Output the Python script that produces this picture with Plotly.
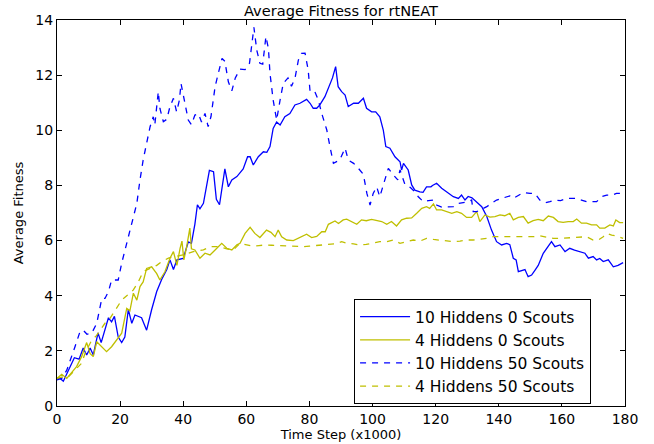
import plotly.graph_objects as go

# ---- data: average fitness over time (time step in thousands) ----
t_10h_0s = [0, 1, 2, 4, 5.5, 7, 8.3, 9.4, 10.5, 11.5, 13, 14, 16.3, 17.3, 18.2, 19.4, 20.5, 21.5, 22.6, 23.7,
            24.7, 26.8, 28.4, 30, 31.6, 33.2, 34.8, 35.8, 36.9, 38, 40, 41.6, 42.6, 43.7, 44.5, 45.3, 46.4,
            48.3, 49.6, 50.5, 51.5, 53.2, 54.3, 55.4, 57, 59, 60.4, 61.2, 62.2, 63.8, 65.4, 66.5, 67.5, 68.5,
            69.6, 70.7, 72.2, 73.8, 75.4, 77, 78, 79.1, 80.2, 81.2, 82.3, 83.3, 84.9, 86.5, 87.3, 88.3, 89.1,
            90.2, 91.3, 92.3, 94, 95.5, 97.1, 98.1, 99.7, 101, 102.3, 103.4, 104.2, 105.5, 107.1, 108.7,
            109.2, 109.8, 111.3, 112.4, 113.4, 115, 116, 117.1, 118.5, 119, 120.3, 121.9, 123.5, 125.6,
            127.2, 128.2, 129.3, 130.3, 131.5, 133, 134.6, 136.2, 137.7, 139.3, 140.9, 142.5, 143.5, 144.6,
            145.5, 146.2, 147.3, 148.3, 149.3, 150.4, 151.5, 152.5, 154.1, 155.7, 156.7, 157.8, 159.4, 161,
            162.5, 164, 165.7, 167.3, 168.4, 169.9, 171, 172, 173.1, 174.7, 176.3, 177.8, 179.4]
v_10h_0s = [1.0, 1.0, 0.9, 1.4, 1.75, 1.7, 2.1, 1.85, 2.1, 1.85, 2.65, 2.3, 3.2, 3.05, 3.25, 2.5, 2.3, 2.5, 3.5, 3.0,
            3.3, 3.2, 2.75, 3.5, 4.15, 4.6, 4.95, 5.3, 4.95, 5.3, 5.35, 5.95, 5.9, 6.6, 7.3, 7.15, 7.35,
            8.55, 8.5, 7.5, 7.3, 8.6, 7.95, 8.2, 8.32, 8.6, 9.04, 9.04, 8.74, 9.04, 9.22, 9.2, 9.41, 10.07,
            10.3, 10.19, 10.49, 10.61, 10.92, 10.98, 11.05, 11.12, 10.98, 10.8, 10.8, 10.92, 11.22, 11.64, 11.9, 12.31, 11.58,
            11.4, 11.28, 10.86, 10.98, 10.98, 11.16, 10.8, 10.67, 10.67, 10.49, 10.01, 9.41, 9.35, 9.04, 8.86,
            8.56, 8.8, 8.56, 8.02, 7.83, 7.77, 7.75, 7.95, 7.95, 8.0, 8.08, 7.9, 7.77, 7.59,
            7.53, 7.65, 7.47, 7.6, 7.55, 7.41, 7.23, 6.87, 6.38, 5.96, 5.84, 5.9, 5.85, 5.36,
            5.3, 4.87, 4.9, 4.95, 4.69, 4.75, 4.93, 5.1, 5.54, 5.78, 5.96, 5.78, 5.84, 5.6,
            5.72, 5.65, 5.6, 5.54, 5.36, 5.42, 5.3, 5.35, 5.24, 5.3, 5.05, 5.1, 5.2]

t_4h_0s = [0, 1.5, 3.1, 4.6, 6.2, 7.8, 8.9, 9.4, 10.5, 11.5, 12.6, 14.1, 15.7, 17.3, 18.9, 20.5, 22.1, 23.1, 24.2,
           25.3, 26.3, 27.3, 28.4, 30, 31.6, 32.6, 34.2, 35.8, 36.9, 38, 39, 39.6, 40.2, 41.1, 42.1, 42.6, 43.7,
           45.3, 46.9, 48.5, 50.1, 52.2, 53.8, 55.4, 57, 58, 59.6, 61.2, 62.7, 64.3, 66.4, 67.8, 69.1, 70.1,
           71.2, 72.8, 74.9, 77, 79.1, 80.7, 82.3, 83.9, 85, 86, 87, 88.1, 89.2, 90.7, 91.8, 93.2, 95, 96.5, 98,
           99.7, 101.3, 102.9, 104.5, 106, 107.6, 109.2, 110.8, 112.4, 114, 115.6, 117.1, 118.1, 119.3, 120.3,
           121.9, 123.5, 125.1, 126.7, 128.2, 129.8, 131.4, 133, 134, 135.6, 137.2, 138.8, 140.4, 141.9, 143.5,
           144.6, 146.2, 147.8, 149.3, 150.9, 152.5, 154.1, 155.7, 157.3, 158.8, 160.4, 162, 163.6, 164.7,
           166.2, 167.8, 169.4, 171, 172, 173.6, 175.2, 176.3, 177.1, 178.3, 179.4]
v_4h_0s = [1.0, 1.15, 1.0, 1.19, 1.43, 1.79, 2.15, 2.3, 1.9, 1.79, 2.33, 2.15, 1.97, 2.15, 2.39, 2.64, 3.54, 3.45, 4.09,
           3.84, 4.33, 4.5, 4.99, 5.05, 4.8, 4.57, 4.87, 5.36, 5.6, 5.1, 5.72, 5.98, 5.3, 5.78, 6.45, 5.7, 5.66,
           5.36, 5.54, 5.48, 5.66, 5.9, 5.72, 5.66, 5.85, 5.9, 6.26, 6.48, 6.26, 6.11, 6.38, 6.3, 6.14, 6.38,
           6.14, 6.02, 6.0, 6.11, 6.23, 6.11, 6.15, 6.32, 6.32, 6.59, 6.65, 6.71, 6.62, 6.75, 6.78, 6.7, 6.59, 6.75, 6.72,
           6.77, 6.72, 6.69, 6.59, 6.69, 6.53, 6.75, 6.81, 6.82, 6.99, 7.17, 7.23, 7.17, 7.33, 7.11,
           7.11, 7.05, 6.99, 7.05, 6.99, 6.84, 6.84, 7.05, 6.69, 6.93, 6.85, 6.87, 6.93, 6.9, 6.99,
           6.75, 6.84, 6.87, 6.63, 6.72, 6.77, 6.72, 6.89, 6.84, 6.69, 6.66, 6.69, 6.69, 6.78,
           6.63, 6.63, 6.57, 6.57, 6.45, 6.45, 6.57, 6.53, 6.75, 6.65, 6.65]

t_10h_50s = [0, 1.5, 3.1, 4.7, 5.7, 7.3, 8.3, 9.5, 11, 12.6, 14.2, 15.2, 16.3, 17.3, 19.4, 20.5, 22.1, 23.7, 25.3,
             26.3, 27.3, 28.4, 29.5, 30.5, 31, 32.1, 32.6, 33.7, 34.8, 35.8, 36.9, 37.9, 38.8, 39.3, 40.6, 41.6,
             42.6, 43.7, 44.8, 45.8, 46.9, 47.9, 48.8, 50.1, 51.1, 52.3, 53.2, 54.3, 55.4, 56.5, 58, 59.6, 61,
             62, 62.4, 63.3, 64.3, 65.2, 66.2, 67, 67.5, 68.5, 69.6, 70.7, 71.7, 73.2, 74.3, 75.4, 76.5, 77.5,
             78.6, 79.6, 80.2, 81.7, 82.8, 83.9, 85.5, 86.5, 87.6, 89.6, 91.3, 92.3, 94, 95.5, 97.1, 98.2, 99.2,
             100.2, 101.3, 102.3, 103.9, 105, 106.6, 108, 108.7, 110.3, 111.9, 113.4, 114.5, 116.1, 117.7,
             119.3, 120.3, 121.9, 123.8, 125.6, 127.2, 128.8, 130.3, 131.4, 131.9, 133, 134.6, 136.2, 137.7,
             139.3, 140.9, 142.5, 143.5, 144.6, 146.2, 147.8, 149.9, 151.5, 153, 154.6, 156.2, 157.8, 159.6,
             161.5, 163, 164.7, 166.2, 167.8, 169.5, 171, 172.6, 174.2, 175.8, 177.3, 179.4]
v_10h_50s = [0.95, 1.0, 1.3, 1.8, 2.15, 2.7, 2.75, 2.6, 2.64, 3.0, 3.9, 3.9, 4.15, 4.57, 4.57, 5.18, 5.9, 6.63, 7.35,
             8.2, 8.92, 9.53, 10.13, 10.49, 10.2, 11.4, 10.8, 10.31, 10.4, 10.86, 11.16, 10.67, 11.1, 11.7, 10.86, 10.37,
             10.2, 10.55, 10.6, 10.3, 10.61, 10.13, 10.5, 11.58, 12.06, 12.61, 12.5, 11.76, 11.43, 11.9, 12.22, 12.2, 12.43,
             13.28, 13.73, 12.91, 12.43, 12.4, 13.4, 12.97, 12.06, 11.1, 10.37, 11.1, 11.7, 11.9, 11.6, 11.88, 12.55, 12.79,
             12.8, 12.19, 11.4, 11.4, 11.1, 10.61, 10.01, 9.41, 8.8, 8.92, 9.35, 8.92, 8.8, 8.62, 8.4, 7.71, 7.29,
             7.71, 7.95, 7.59, 8.2, 8.62, 8.38, 8.2, 8.56, 8.02, 7.93, 7.77, 7.59, 7.41, 7.45,
             7.47, 7.29, 7.21, 7.22, 7.23, 7.35, 7.37, 7.41, 7.47, 7.05, 7.05, 7.13, 7.23, 7.35,
             7.47, 7.53, 7.59, 7.62, 7.53, 7.65, 7.74, 7.71, 7.71, 7.47, 7.37, 7.41, 7.47, 7.45,
             7.53, 7.53, 7.53, 7.47, 7.41, 7.41, 7.41, 7.59, 7.65, 7.65, 7.71, 7.71]

t_4h_50s = [0, 1.5, 3.6, 5.7, 7.8, 8.9, 11, 12.5, 15.2, 16.8, 18.4, 20.5, 22.1, 24.2, 25.8, 27.3, 29.5, 31.6, 33.2,
            35.3, 37.4, 40, 43.2, 46.4, 48.5, 51.1, 53.8, 55.9, 58, 60, 62, 64, 66, 68, 70, 72, 74, 76, 78, 80,
            82, 84, 86.5, 88, 90.2, 92, 94, 96, 98, 100.2, 102.3, 104.5, 106.6, 108.7, 110.8, 112.9, 115, 117.1,
            119.3, 121.4, 123.5, 125.6, 127.7, 129.8, 131.9, 134, 136.2, 138.2, 140.4, 142.5, 144.6, 147.8,
            149.3, 150.9, 153, 155, 157.3, 159.4, 161.5, 163.6, 165.7, 167.8, 169.9, 171.5, 173.1, 174.2,
            175.8, 177.3, 179.4]
v_4h_50s = [1.0, 1.05, 1.06, 1.3, 1.55, 1.91, 2.39, 2.55, 3.0, 3.18, 3.48, 3.84, 4.0, 4.21, 4.51, 4.87, 4.99, 5.1, 5.24,
            5.36, 5.42, 5.48, 5.6, 5.66, 5.78, 5.78, 5.7, 5.66, 5.9, 5.85, 5.8, 5.82, 5.84, 5.83, 5.82, 5.8, 5.8, 5.78, 5.78, 5.8,
            5.82, 5.82, 5.84, 5.88, 5.96, 5.9, 5.88, 5.84, 5.86, 5.9, 5.96, 5.96, 6.02, 5.9, 5.96, 6.02, 5.98, 6.08,
            6.04, 6.02, 5.98, 5.96, 5.98, 6.02, 6.02, 6.04, 6.08, 6.14, 6.14, 6.12, 6.12, 6.14,
            6.12, 6.14, 6.17, 6.14, 6.08, 6.08, 6.1, 6.12, 6.14, 6.14, 6.02, 6.02, 6.14, 6.26,
            6.2, 6.17, 6.08]

x_ticks = [0, 20, 40, 60, 80, 100, 120, 140, 160, 180]
y_ticks = [0, 2, 4, 6, 8, 10, 12, 14]

BLUE = "#0000ff"
OLIVE = "#bfbf00"
FONT = "DejaVu Sans"

series = [
    ("10 Hiddens 0 Scouts", t_10h_0s, v_10h_0s, BLUE, "solid"),
    ("4 Hiddens 0 Scouts", t_4h_0s, v_4h_0s, OLIVE, "solid"),
    ("10 Hiddens 50 Scouts", t_10h_50s, v_10h_50s, BLUE, "6px,6px"),
    ("4 Hiddens 50 Scouts", t_4h_50s, v_4h_50s, OLIVE, "6px,6px"),
]

fig = go.Figure()
for name, t, v, color, dash in series:
    fig.add_trace(go.Scatter(
        x=t, y=v, mode="lines", name=name,
        line=dict(color=color, width=1.3, dash=dash),
    ))

axis_common = dict(
    showgrid=False, zeroline=False, automargin=False,
    showline=True, linecolor="black", linewidth=1, mirror="ticks",
    ticks="inside", ticklen=5, tickwidth=1, tickcolor="black",
    tickfont=dict(family=FONT, size=14, color="black"),
)

fig.update_layout(
    width=654, height=444,
    margin=dict(l=57, r=29, t=20, b=38),
    paper_bgcolor="white", plot_bgcolor="white",
    font=dict(family=FONT, color="black"),
    title=dict(text="Average Fitness for rtNEAT", x=0.5, xref="paper",
               y=1 - 11 / 444, yref="container", yanchor="middle", xanchor="center",
               font=dict(family=FONT, size=14.6, color="black")),
    xaxis=dict(range=[0, 180], tickvals=x_ticks,
               title=dict(text="Time Step (x1000)", font=dict(family=FONT, size=13), standoff=0),
               **axis_common),
    yaxis=dict(range=[0, 14], tickvals=y_ticks,
               title=dict(text="Average Fitness", font=dict(family=FONT, size=13), standoff=8),
               **axis_common),
    legend=dict(
        x=0.523, y=0.277, xanchor="left", yanchor="top",
        bgcolor="white", bordercolor="black", borderwidth=1,
        font=dict(family=FONT, size=15.5, color="black"),
        itemwidth=50,
    ),
    showlegend=True,
)

fig.write_html("out.html")
